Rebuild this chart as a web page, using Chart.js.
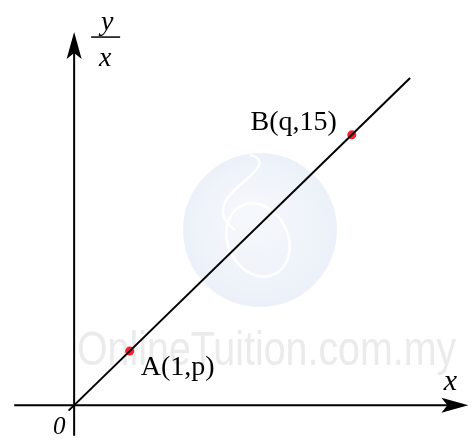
<!DOCTYPE html>
<html>
<head>
<meta charset="utf-8">
<script src="https://cdn.jsdelivr.net/npm/chart.js@4"></script>
<style>
  body { margin: 0; background: #fff; }
  #wrap { width: 474px; height: 443px; position: relative; }
</style>
</head>
<body>
<div id="wrap"><canvas id="graph"></canvas></div>
<script>
// straight line y/x against x, through the origin
let lineX = [-0.1, 6.05];
let lineY = [-0.3, 18.15];

let pointNames = ["A(1,p)", "B(q,15)"];
let pointX = [1, 5];
let pointY = [3, 15];

let xAxisRange = [-1.08, 7.1];
let yAxisRange = [-1.7, 20.7];

let xLabel = "x";
let yLabelTop = "y";
let yLabelBottom = "x";
let originLabel = "0";
let watermark = "OnlineTuition.com.my";

const serif = "'Liberation Serif', 'Times New Roman', Times, serif";

function arrow(ctx, tipX, tipY, dir) {
    // dir: "up" or "right"
    ctx.save();
    ctx.translate(tipX, tipY);
    if (dir === "right") ctx.rotate(Math.PI / 2);
    ctx.beginPath();
    ctx.moveTo(0, 0);
    ctx.lineTo(7.5, 27);
    ctx.lineTo(0, 21);
    ctx.lineTo(-7.5, 27);
    ctx.closePath();
    ctx.fillStyle = "#000";
    ctx.fill();
    ctx.restore();
}

const background = {
    id: "background",
    beforeDatasetsDraw(chart) {
        let ctx = chart.ctx;
        let x = chart.scales.x;
        let y = chart.scales.y;

        // faint logo and watermark
        ctx.save();
        let grad = ctx.createRadialGradient(250, 215, 10, 260, 230, 78);
        grad.addColorStop(0, "#f5f8fc");
        grad.addColorStop(1, "#ecf1f9");
        ctx.fillStyle = grad;
        ctx.beginPath();
        ctx.arc(260, 230, 77, 0, Math.PI * 2);
        ctx.fill();
        ctx.strokeStyle = "rgba(255,255,255,0.95)";
        ctx.lineWidth = 2.5;
        ctx.beginPath();
        ctx.ellipse(258, 240, 30, 38, -0.45, 0, Math.PI * 2);
        ctx.stroke();
        ctx.beginPath();
        ctx.moveTo(235, 230);
        ctx.bezierCurveTo(215, 215, 222, 200, 240, 185);
        ctx.bezierCurveTo(258, 170, 268, 160, 250, 155);
        ctx.stroke();

        ctx.fillStyle = "#ebebeb";
        ctx.font = "48px 'Liberation Sans', Arial, sans-serif";
        ctx.textBaseline = "alphabetic";
        ctx.translate(77, 365);
        ctx.scale(0.82, 1);
        ctx.fillText(watermark, 0, 0);
        ctx.restore();

        // axes
        let ox = x.getPixelForValue(0);
        let oy = y.getPixelForValue(0);
        let xStart = x.getPixelForValue(xAxisRange[0]);
        let xEnd = x.getPixelForValue(xAxisRange[1]);
        let yStart = y.getPixelForValue(yAxisRange[0]);
        let yEnd = y.getPixelForValue(yAxisRange[1]);

        ctx.save();
        ctx.strokeStyle = "#000";
        ctx.lineWidth = 2;
        ctx.beginPath();
        ctx.moveTo(xStart, oy);
        ctx.lineTo(xEnd - 15, oy);
        ctx.moveTo(ox, yStart);
        ctx.lineTo(ox, yEnd + 15);
        ctx.stroke();
        arrow(ctx, xEnd, oy, "right");
        arrow(ctx, ox, yEnd, "up");

        ctx.fillStyle = "#000";
        ctx.textAlign = "center";
        ctx.textBaseline = "alphabetic";
        ctx.font = "italic 30px " + serif;
        ctx.fillText(xLabel, xEnd - 18, oy - 15);

        ctx.font = "italic 28px " + serif;
        ctx.fillText(yLabelTop, ox + 33, yEnd - 2);
        ctx.fillText(yLabelBottom, ox + 31, yEnd + 34);
        ctx.lineWidth = 1.5;
        ctx.beginPath();
        ctx.moveTo(ox + 17, yEnd + 5);
        ctx.lineTo(ox + 46, yEnd + 5);
        ctx.stroke();

        ctx.font = "italic 25px " + serif;
        ctx.fillText(originLabel, ox - 15, oy + 29);
        ctx.restore();
    },
    afterDatasetsDraw(chart) {
        let ctx = chart.ctx;
        let x = chart.scales.x;
        let y = chart.scales.y;
        ctx.save();
        ctx.fillStyle = "#000";
        ctx.font = "28px " + serif;
        ctx.textBaseline = "alphabetic";
        pointNames.forEach((name, i) => {
            let px = x.getPixelForValue(pointX[i]);
            let py = y.getPixelForValue(pointY[i]);
            if (i === 0) {
                ctx.textAlign = "left";
                ctx.fillText(name, px + 11, py + 24);
            } else {
                ctx.textAlign = "right";
                ctx.fillText(name, px - 15, py - 5);
            }
        });
        ctx.restore();
    }
};

function draw() {
    let ctx = document.getElementById("graph").getContext("2d");
    new Chart(ctx, {
        type: "scatter",
        data: {
            datasets: [{
                data: lineX.map((v, i) => ({ x: v, y: lineY[i] })),
                showLine: true,
                borderColor: "#000",
                borderWidth: 2,
                pointRadius: 0
            }, {
                data: pointX.map((v, i) => ({ x: v, y: pointY[i] })),
                showLine: false,
                pointRadius: 4.5,
                pointBackgroundColor: "#f2222b",
                pointBorderWidth: 0
            }]
        },
        options: {
            responsive: true,
            maintainAspectRatio: false,
            animation: false,
            layout: { padding: 0 },
            scales: {
                x: { type: "linear", display: false, min: -1.254, max: 7.12 },
                y: { type: "linear", display: false, min: -1.848, max: 22.23 }
            },
            plugins: {
                legend: { display: false },
                tooltip: { enabled: false }
            }
        },
        plugins: [background]
    });
}

Promise.all([
    document.fonts.load("28px 'Liberation Serif'"),
    document.fonts.load("italic 28px 'Liberation Serif'"),
    document.fonts.load("48px 'Liberation Sans'")
]).then(draw, draw);
</script>
</body>
</html>
